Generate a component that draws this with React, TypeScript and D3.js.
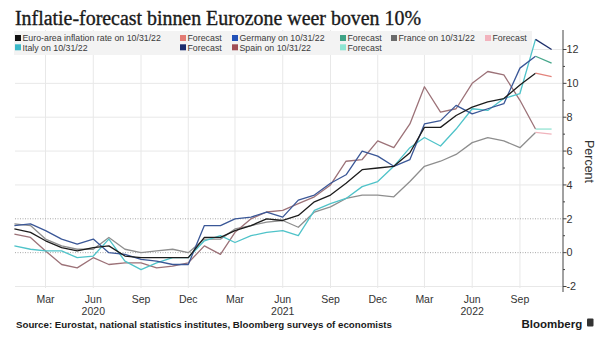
import React from "react";
import * as d3 from "d3";

const W = 605;
const H = 346;

const startMonth = new Date(Date.UTC(2020, 0, 1));
const forecastMonth = new Date(Date.UTC(2022, 10, 1));

const euroArea = [1.4, 1.2, 0.7, 0.3, 0.1, 0.3, 0.4, -0.2, -0.3, -0.3, -0.3, -0.3, 0.9, 0.9, 1.3, 1.6, 2.0, 1.9, 2.2, 3.0, 3.4, 4.1, 4.9, 5.0, 5.1, 5.9, 7.4, 7.4, 8.1, 8.6, 8.9, 9.1, 9.9, 10.6];
const germany = [1.6, 1.7, 1.3, 0.8, 0.5, 0.8, 0.0, -0.1, -0.4, -0.5, -0.7, -0.7, 1.6, 1.6, 2.0, 2.1, 2.4, 2.1, 3.1, 3.4, 4.1, 4.6, 6.0, 5.7, 5.1, 5.5, 7.6, 7.8, 8.7, 8.2, 8.5, 8.8, 10.9, 11.6];
const france = [1.7, 1.6, 0.8, 0.4, 0.2, 0.2, 0.9, 0.2, 0.0, 0.1, 0.2, 0.0, 0.8, 0.8, 1.4, 1.6, 1.8, 1.9, 1.5, 2.4, 2.7, 3.2, 3.4, 3.4, 3.3, 4.2, 5.1, 5.4, 5.8, 6.5, 6.8, 6.6, 6.2, 7.1];
const italy = [0.4, 0.2, 0.1, 0.1, -0.3, -0.2, 0.8, -0.5, -1.0, -0.6, -0.3, -0.3, 0.7, 1.0, 0.6, 1.0, 1.2, 1.3, 1.0, 2.5, 2.9, 3.2, 3.9, 4.2, 5.1, 6.2, 6.8, 6.3, 7.3, 8.5, 8.4, 9.1, 9.4, 12.6];
const spain = [1.1, 0.9, 0.1, -0.7, -0.9, -0.3, -0.7, -0.6, -0.6, -0.9, -0.8, -0.6, 0.4, -0.1, 1.2, 2.0, 2.4, 2.5, 2.9, 3.3, 4.0, 5.4, 5.5, 6.6, 6.2, 7.6, 9.8, 8.3, 8.5, 10.0, 10.7, 10.5, 9.0, 7.3];

const forecasts = { euroArea: 10.4, germany: 11.2, france: 7.0, italy: 12.0, spain: 7.3 };

const yTicks = [-2, 0, 2, 4, 6, 8, 10, 12];
const tickMonths = [2, 5, 8, 11];
const monthTickLabels = ["Mar", "Jun", "Sep", "Dec"];
const yearLabels = ["2020", "2021", "2022"];

const seriesDefs = [
  { key: "france", values: france, line: "#8e8e8e", fc: "#f0b3bc" },
  { key: "spain", values: spain, line: "#9c7278", fc: "#93e3d3" },
  { key: "italy", values: italy, line: "#4fc3c9", fc: "#1d2f6b" },
  { key: "germany", values: germany, line: "#3a5797", fc: "#45a68a" },
  { key: "euroArea", values: euroArea, line: "#1c1c1c", fc: "#e3837c" },
];

const legendRow1 = [
  { label: "Euro-area inflation rate on 10/31/22", color: "#111111" },
  { label: "Forecast", color: "#e37b74" },
  { label: "Germany on 10/31/22", color: "#2251b8" },
  { label: "Forecast", color: "#3fa386" },
  { label: "France on 10/31/22", color: "#6b6b6b" },
  { label: "Forecast", color: "#f2b3bd" },
];
const legendRow2 = [
  { label: "Italy on 10/31/22", color: "#3ab8c8" },
  { label: "Forecast", color: "#1a2d6e" },
  { label: "Spain on 10/31/22", color: "#a04d55" },
  { label: "Forecast", color: "#8de5d2" },
];

export default function App() {
  const left = 14.4;
  const right = 551.6;
  const axisX = 563;
  const plotTop = 30;
  const plotBottom = 290;

  const x = d3.scaleUtc().domain([startMonth, forecastMonth]).range([left, right]);
  const y = d3.scaleLinear().domain([-2, 12]).range([286.5, 49.5]);

  const monthDate = (i: number) => d3.utcMonth.offset(startMonth, i);

  const line = d3
    .line<[Date, number]>()
    .x((d) => x(d[0]))
    .y((d) => y(d[1]));

  const monthTicks = d3.utcMonth
    .range(new Date(Date.UTC(2020, 1, 1)), new Date(Date.UTC(2022, 10, 1)))
    .filter((d) => tickMonths.includes(d.getUTCMonth()));

  const legendColsRow1 = [15, 180, 232, 340, 391, 485];
  const legendColsRow2 = [15, 180, 232, 340];
  const font = "'Liberation Sans', Arial, sans-serif";

  const minorTicks = d3.range(-1, 13, 2);

  return (
    <svg width={W} height={H} style={{ position: "absolute", left: 0, top: 0, background: "#fff" }}>
      <rect x={0} y={0} width={W} height={H} fill="#ffffff" />
      {/* vertical grid */}
      {monthTicks.map((d, i) => (
        <line key={"vg" + i} x1={x(d)} x2={x(d)} y1={plotTop} y2={plotBottom - 2} stroke="#e8e8e8" strokeWidth={1} />
      ))}
      {/* horizontal grid */}
      {yTicks.map((t) =>
        t === 0 || t === 2 ? (
          <line key={"hg" + t} x1={15} x2={axisX} y1={y(t)} y2={y(t)} stroke="#a8a8a8" strokeWidth={1} strokeDasharray="1,1.5" />
        ) : (
          <line key={"hg" + t} x1={15} x2={axisX} y1={y(t)} y2={y(t)} stroke="#e8e8e8" strokeWidth={1} />
        )
      )}

      {/* legend background */}
      <rect x={14} y={31} width={518} height={24} fill="#f3f3f3" />
      {legendRow1.map((e, i) => (
        <g key={"l1" + i}>
          <rect x={legendColsRow1[i]} y={35} width={6} height={6} fill={e.color} />
          <text x={legendColsRow1[i] + 7.5} y={41.2} fontFamily={font} fontSize={8.8} fill="#3a3a3a">
            {e.label}
          </text>
        </g>
      ))}
      {legendRow2.map((e, i) => (
        <g key={"l2" + i}>
          <rect x={legendColsRow2[i]} y={44.3} width={6} height={6} fill={e.color} />
          <text x={legendColsRow2[i] + 7.5} y={50.5} fontFamily={font} fontSize={8.8} fill="#3a3a3a">
            {e.label}
          </text>
        </g>
      ))}

      {/* lines */}
      {seriesDefs.map((s) => {
        const pts: [Date, number][] = s.values.map((v, i) => [monthDate(i), v]);
        const last = pts[pts.length - 1];
        const fcPts: [Date, number][] = [last, [forecastMonth, (forecasts as any)[s.key]]];
        return (
          <g key={s.key}>
            <path d={line(pts) || ""} fill="none" stroke={s.line} strokeWidth={1.3} strokeLinejoin="round" />
            <path d={line(fcPts) || ""} fill="none" stroke={s.fc} strokeWidth={1.3} />
          </g>
        );
      })}

      {/* right axis */}
      <line x1={axisX} x2={axisX} y1={plotTop} y2={plotBottom + 2} stroke="#444" strokeWidth={1} />
      {yTicks.map((t) => (
        <g key={"yt" + t}>
          <line x1={axisX} x2={axisX + 3.5} y1={y(t)} y2={y(t)} stroke="#444" />
          <text x={axisX + 3.5} y={y(t) + 3.8} fontFamily={font} fontSize={10.8} fill="#333">
            {t < 0 ? "-" + Math.abs(t) : t}
          </text>
        </g>
      ))}
      {minorTicks.map((t) => (
        <line key={"mt" + t} x1={axisX} x2={axisX + 2} y1={y(t)} y2={y(t)} stroke="#444" />
      ))}
      <text
        transform={`translate(${585},${161.5}) rotate(90)`}
        textAnchor="middle"
        fontFamily={font}
        fontSize={12.5}
        fill="#333"
      >
        Percent
      </text>

      {/* x labels */}
      {monthTicks.map((d, i) => (
        <text key={"xl" + i} x={x(d)} y={302.5} textAnchor="middle" fontFamily={font} fontSize={10.5} fill="#333">
          {monthTickLabels[tickMonths.indexOf(d.getUTCMonth())]}
        </text>
      ))}
      {yearLabels.map((yl, i) => (
        <text key={"yl" + yl} x={x(new Date(Date.UTC(2020 + i, 5, 1)))} y={315} textAnchor="middle" fontFamily={font} fontSize={10.5} fill="#333">
          {yl}
        </text>
      ))}

      {/* title */}
      <text
        x={15}
        y={25}
        fontFamily="'Liberation Serif', 'DejaVu Serif', serif"
        fontSize={20}
        fill="#1a1a1a"
        stroke="#1a1a1a"
        strokeWidth={0.35}
        textLength={406}
        lengthAdjust="spacingAndGlyphs"
      >
        Inflatie-forecast binnen Eurozone weer boven 10%
      </text>

      {/* source */}
      <text x={16} y={327.5} fontFamily={font} fontWeight="bold" fontSize={9.3} fill="#1a1a1a" textLength={376} lengthAdjust="spacingAndGlyphs">
        Source: Eurostat, national statistics institutes, Bloomberg surveys of economists
      </text>
      <text x={521.5} y={327.5} fontFamily={font} fontWeight="bold" fontSize={11.5} fill="#1a1a1a">
        Bloomberg
      </text>
      <rect x={587} y={318.5} width={6.5} height={8} rx={1} fill="#333" />
    </svg>
  );
}
